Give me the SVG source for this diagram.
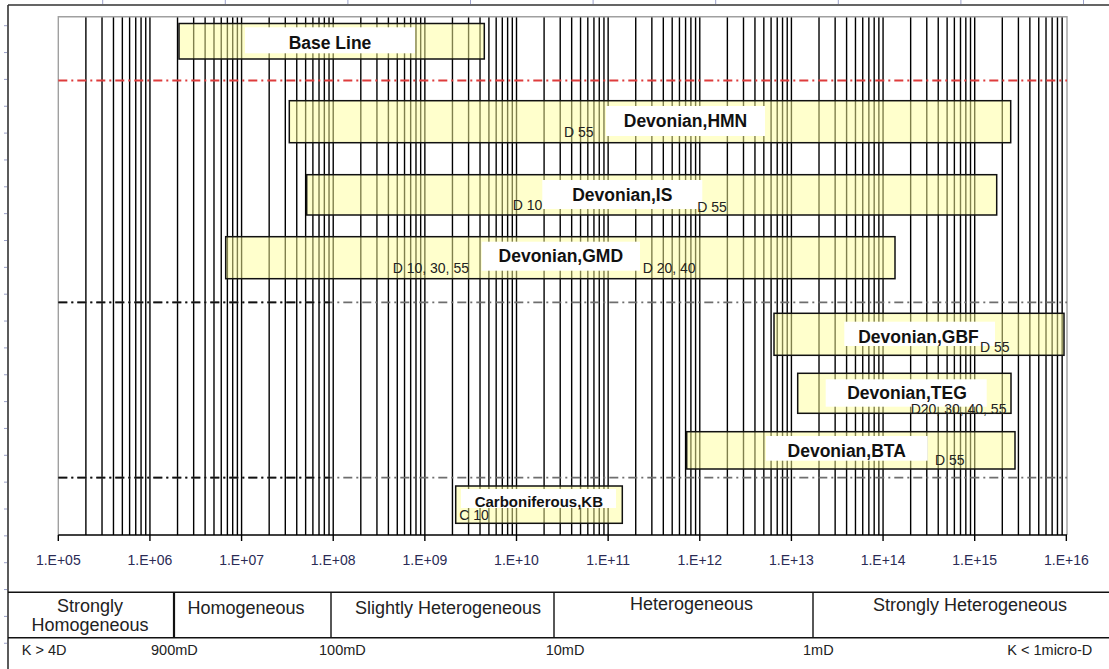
<svg xmlns="http://www.w3.org/2000/svg" xmlns:xlink="http://www.w3.org/1999/xlink" width="1109" height="669" viewBox="0 0 1109 669">
<style>
.g{stroke:#000;stroke-width:1.4}
.bar{fill:#FFFF99;fill-opacity:0.5;stroke:#111;stroke-width:1.5}
.lbl{fill:#fff;stroke:none}
.t{font-family:"Liberation Sans",Arial,sans-serif;font-weight:bold;font-size:17.5px;fill:#111;text-anchor:middle}
.s{font-family:"Liberation Sans",Arial,sans-serif;font-size:14px;fill:#222}
.ax{font-family:"Liberation Sans",Arial,sans-serif;font-size:14px;fill:#2b2b55;text-anchor:middle}
.tb{font-family:"Liberation Sans",Arial,sans-serif;font-size:18px;fill:#222}
.tk{font-family:"Liberation Sans",Arial,sans-serif;font-size:14.5px;fill:#222}
.dd{fill:none;stroke-width:1.8;stroke-dasharray:9 4 2 4}
</style>
<defs>
<g id="dec">
<line class="g" x1="27.59" y1="17" x2="27.59" y2="535"/>
<line class="g" x1="43.72" y1="17" x2="43.72" y2="535"/>
<line class="g" x1="55.17" y1="17" x2="55.17" y2="535"/>
<line class="g" x1="64.05" y1="17" x2="64.05" y2="535"/>
<line class="g" x1="71.31" y1="17" x2="71.31" y2="535"/>
<line class="g" x1="77.44" y1="17" x2="77.44" y2="535"/>
<line class="g" x1="82.76" y1="17" x2="82.76" y2="535"/>
<line class="g" x1="87.45" y1="17" x2="87.45" y2="535"/>
</g>
</defs>
<rect width="1109" height="669" fill="#fff"/>
<g id="frame">
<path d="M8 5H1109M8 5V669" stroke="#333" stroke-width="1.6" fill="none"/>
<path d="M102.7 0v4M225.3 0v4M347.9 0v4M470.5 0v4M593.1 0v4M715.7 0v4M838.3 0v4M960.9 0v4M1083.5 0v4" stroke="#9aa0c8" stroke-width="1" fill="none"/>
<path d="M4 25.7h3M4 52.55h3M4 79.4h3M4 106.25h3M4 133.1h3M4 159.95h3M4 186.8h3M4 213.65h3M4 240.5h3M4 267.35h3M4 294.2h3M4 321.05h3M4 347.9h3M4 374.75h3M4 401.6h3M4 428.45h3M4 455.3h3M4 482.15h3M4 509h3M4 535.85h3M4 562.7h3M4 589.55h3M4 616.4h3M4 643.25h3" stroke="#9aa0c8" stroke-width="1" fill="none"/>
</g>
<g id="grid">
<use xlink:href="#dec" x="58.3"/>
<use xlink:href="#dec" x="149.94"/>
<use xlink:href="#dec" x="241.58"/>
<use xlink:href="#dec" x="333.22"/>
<use xlink:href="#dec" x="424.86"/>
<use xlink:href="#dec" x="516.5"/>
<use xlink:href="#dec" x="608.14"/>
<use xlink:href="#dec" x="699.78"/>
<use xlink:href="#dec" x="791.42"/>
<use xlink:href="#dec" x="883.06"/>
<use xlink:href="#dec" x="974.7"/>
<path class="g" d="M149.94 17V535M241.58 17V535M333.22 17V535M424.86 17V535M516.5 17V535M608.14 17V535M699.78 17V535M791.42 17V535M883.06 17V535M974.7 17V535"/>
<path d="M58.3 535V16.7H1067V535" fill="none" stroke="#a0a0a0" stroke-width="1.4"/>
</g>
<g id="connectors">
<line class="dd" x1="58.3" y1="80.5" x2="1067" y2="80.5" stroke="#de3c3c"/>
<line class="dd" x1="58.3" y1="302.3" x2="1067" y2="302.3" stroke="#6e6e6e"/>
<line class="dd" x1="58.3" y1="302.3" x2="330" y2="302.3" stroke="#111"/>
<line class="dd" x1="58.3" y1="477.7" x2="1067" y2="477.7" stroke="#6e6e6e"/>
<line class="dd" x1="58.3" y1="477.7" x2="330" y2="477.7" stroke="#111"/>
</g>
<g id="baseline">
<rect class="bar" x="179" y="23.5" width="305.3" height="35.5"/>
<rect class="lbl" x="245" y="27.3" width="170" height="26"/>
<text class="t" x="330" y="48.5">Base Line</text>
</g>
<g id="hmn">
<rect class="bar" x="289.3" y="100.7" width="721.4" height="42"/>
<rect class="lbl" x="606" y="106" width="159" height="30"/>
<text class="t" x="685.5" y="127">Devonian,HMN</text>
<text class="s" x="564" y="137.3">D 55</text>
</g>
<g id="is">
<rect class="bar" x="306.7" y="174.7" width="690" height="40.3"/>
<rect class="lbl" x="542.3" y="180" width="160" height="29"/>
<text class="t" x="622.3" y="201">Devonian,IS</text>
<text class="s" x="512.7" y="210">D 10</text>
<text class="s" x="697.3" y="211.5">D 55</text>
</g>
<g id="gmd">
<rect class="bar" x="225.7" y="236.7" width="669.3" height="42"/>
<rect class="lbl" x="481.7" y="241.7" width="158.3" height="29"/>
<text class="t" x="560.8" y="261.7">Devonian,GMD</text>
<text class="s" x="392.7" y="273.3">D 10, 30, 55</text>
<text class="s" x="642.7" y="273.3">D 20, 40</text>
</g>
<g id="gbf">
<rect class="bar" x="774" y="313.3" width="290" height="42"/>
<rect class="lbl" x="844.3" y="321.7" width="150.7" height="24.3"/>
<text class="t" x="918.5" y="343.3">Devonian,GBF</text>
<text class="s" x="980" y="351.7">D 55</text>
</g>
<g id="teg">
<rect class="bar" x="797.7" y="373.3" width="213.3" height="40"/>
<rect class="lbl" x="825.7" y="379.3" width="161" height="27.4"/>
<text class="t" x="907" y="399">Devonian,TEG</text>
<text class="s" x="910.7" y="413.5">D20, 30, 40, 55</text>
</g>
<g id="bta">
<rect class="bar" x="686.7" y="431.7" width="328.3" height="37.3"/>
<rect class="lbl" x="766" y="436" width="161.7" height="24.7"/>
<text class="t" x="846.7" y="456.7">Devonian,BTA</text>
<text class="s" x="935" y="465">D 55</text>
</g>
<g id="kb">
<rect class="bar" x="455.7" y="486" width="166.6" height="37.3"/>
<rect class="lbl" x="461" y="489" width="155" height="19"/>
<text class="t" x="538.8" y="507.3" style="font-size:15px">Carboniferous,KB</text>
<text class="s" x="459.3" y="520">C 10</text>
</g>
<g id="axis">
<path d="M58.3 535H1067" stroke="#000" stroke-width="1.4"/>
<path d="M58.3 535v6M149.94 535v6M241.58 535v6M333.22 535v6M424.86 535v6M516.5 535v6M608.14 535v6M699.78 535v6M791.42 535v6M883.06 535v6M974.7 535v6M1066.34 535v6" stroke="#000" stroke-width="1.4"/>
<text class="ax" x="58.3" y="565">1.E+05</text>
<text class="ax" x="149.94" y="565">1.E+06</text>
<text class="ax" x="241.58" y="565">1.E+07</text>
<text class="ax" x="333.22" y="565">1.E+08</text>
<text class="ax" x="424.86" y="565">1.E+09</text>
<text class="ax" x="516.5" y="565">1.E+10</text>
<text class="ax" x="608.14" y="565">1.E+11</text>
<text class="ax" x="699.78" y="565">1.E+12</text>
<text class="ax" x="791.42" y="565">1.E+13</text>
<text class="ax" x="883.06" y="565">1.E+14</text>
<text class="ax" x="974.7" y="565">1.E+15</text>
<text class="ax" x="1066.34" y="565">1.E+16</text>
</g>
<g id="table">
<path d="M8 592.3H1109M8 637.7H1109M331 592.3V637.7M554 592.3V637.7M813 592.3V637.7" stroke="#111" stroke-width="1.4" fill="none"/>
<path d="M174 592.3V637.7" stroke="#111" stroke-width="2.2"/>
<text class="tb" x="90" y="611.5" text-anchor="middle">Strongly</text>
<text class="tb" x="90" y="631" text-anchor="middle">Homogeneous</text>
<text class="tb" x="246" y="613.5" text-anchor="middle">Homogeneous</text>
<text class="tb" x="448" y="613.5" text-anchor="middle">Slightly Heterogeneous</text>
<text class="tb" x="691.5" y="610" text-anchor="middle">Heterogeneous</text>
<text class="tb" x="970" y="610.5" text-anchor="middle">Strongly Heterogeneous</text>
<text class="tk" x="21.7" y="655">K &gt; 4D</text>
<text class="tk" x="151" y="655">900mD</text>
<text class="tk" x="319" y="655">100mD</text>
<text class="tk" x="545.7" y="655">10mD</text>
<text class="tk" x="803" y="655">1mD</text>
<text class="tk" x="1007.3" y="655">K &lt; 1micro-D</text>
</g>
</svg>
